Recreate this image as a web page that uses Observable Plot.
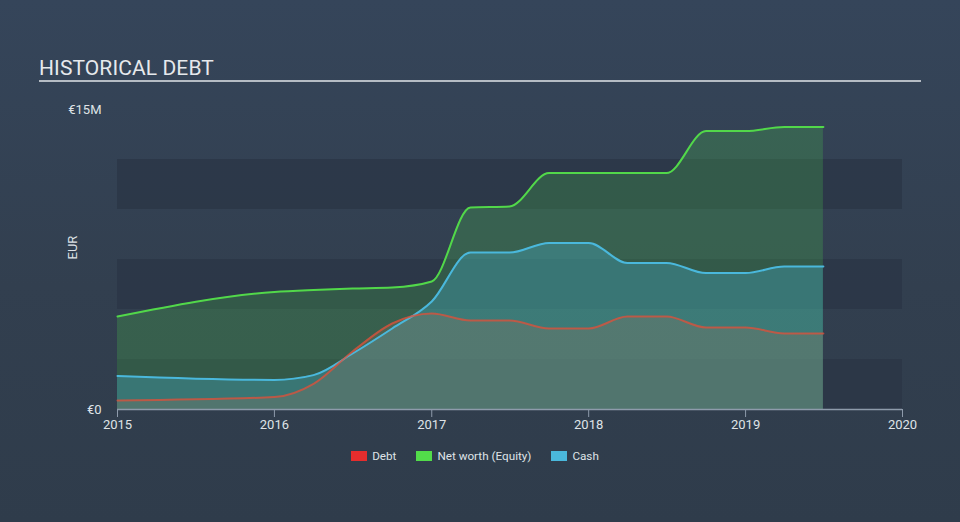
<!DOCTYPE html>
<html>
<head>
<meta charset="utf-8">
<script src="https://cdn.jsdelivr.net/npm/d3@7"></script>
<script src="https://cdn.jsdelivr.net/npm/@observablehq/plot@0.6"></script>
<style>
  html, body { margin: 0; padding: 0; background: #323f4f; }
  #chart { position: relative; width: 960px; height: 522px; overflow: hidden;
    background: linear-gradient(180deg, #35455a 0%, #323f4f 55%, #2f3c4b 100%);
    font-family: Roboto, "Open Sans", sans-serif; }
  #title { position: absolute; left: 39px; top: 57px; font-size: 21px; line-height: 22px; color: #e6e9ec; letter-spacing: 0.1px; }
  #rule { position: absolute; left: 39px; top: 80px; width: 882px; height: 2px; background: #b5bcc4; }
  #plot { position: absolute; left: 0; top: 90px; }
  #legend { position: absolute; left: 0; width: 950px; padding-right: 10px; top: 449px; display: flex; justify-content: center; align-items: center;
    font-size: 11.7px; color: #dfe3e7; }
  .item { display: flex; align-items: center; margin: 0 10px; }
  .sw { width: 16px; height: 10px; margin-right: 5px; }
  #patdefs { position: absolute; left: 0; top: 0; width: 0; height: 0; }
</style>
</head>
<body>
<svg id="patdefs" width="0" height="0" xmlns="http://www.w3.org/2000/svg">
  <defs>
    <pattern id="hatchdebt" patternUnits="userSpaceOnUse" width="4" height="4" patternTransform="rotate(45)">
      <rect x="0" y="0" width="1.8" height="4" fill="#d86a55" fill-opacity="0.5"></rect>
    </pattern>
  </defs>
</svg>
<div id="chart">
  <div id="title">HISTORICAL DEBT</div>
  <div id="rule"></div>
  <div id="plot"></div>
  <div id="legend"></div>
</div>
<script>
// ---- data (EUR millions) ----
const dates  = ["2015-01-01","2016-01-01","2016-04-01","2016-07-01","2016-10-01","2017-01-01","2017-04-01","2017-07-01","2017-10-01","2018-01-01","2018-04-01","2018-07-01","2018-10-01","2019-01-01","2019-04-01","2019-07-01"];
const debt   = [0.45, 0.62, 1.28, 2.9, 4.3, 4.8, 4.45, 4.45, 4.05, 4.05, 4.65, 4.65, 4.1, 4.1, 3.8, 3.8];
const equity = [4.65, 5.88, 5.98, 6.05, 6.1, 6.4, 10.1, 10.15, 11.82, 11.82, 11.82, 11.82, 13.92, 13.92, 14.12, 14.12];
const cash   = [1.68, 1.48, 1.72, 2.8, 4.05, 5.4, 7.85, 7.85, 8.33, 8.33, 7.33, 7.33, 6.82, 6.82, 7.15, 7.15];
const xTickYears = ["2015","2016","2017","2018","2019","2020"];
const yTicks = [0, 15];
const yTickLabels = ["€0", "€15M"];
const bandLo = [0, 5, 10];
const bandHi = [2.5, 7.5, 12.5];
const seriesNames = ["Debt", "Net worth (Equity)", "Cash"];
const seriesColors = ["#e52d2d", "#52dc4a", "#4ab8dc"];

const rows = dates.map((d, i) => ({date: new Date(d), debt: debt[i], equity: equity[i], cash: cash[i]}));
const bands = bandLo.map((lo, i) => ({lo, hi: bandHi[i]}));
const xDomain = [new Date("2015-01-01"), new Date("2020-01-01")];
const xTicks = xTickYears.map(y => new Date(y + "-01-01"));

const svg = Plot.plot({
  width: 960,
  height: 345,
  marginLeft: 117,
  marginRight: 58,
  marginTop: 19,
  marginBottom: 26,
  style: {background: "transparent", color: "#dfe3e7", fontFamily: "Roboto, sans-serif", fontSize: "13px", overflow: "visible"},
  x: {type: "utc", domain: xDomain, ticks: xTicks, tickFormat: d3.utcFormat("%Y"), tickSize: 8, tickPadding: 2, label: null},
  y: {domain: [0, 15], ticks: yTicks, tickFormat: d => yTickLabels[yTicks.indexOf(d)], tickSize: 0, tickPadding: 16, label: null},
  marks: [
    Plot.rect(bands, {x1: () => xDomain[0], x2: () => xDomain[1], y1: "lo", y2: "hi", fill: "#2b3645", fillOpacity: 0.75}),
    Plot.areaY(rows, {x: "date", y: "equity", fill: "#4fd84f", fillOpacity: 0.22, curve: "monotone-x"}),
    Plot.areaY(rows, {x: "date", y: "cash", fill: "#4ab8dc", fillOpacity: 0.3, curve: "monotone-x"}),
    Plot.areaY(rows, {x: "date", y: "debt", fill: "#a8705a", fillOpacity: 0.22, curve: "monotone-x"}),
    Plot.areaY(rows, {x: "date", y: "debt", fill: "red", curve: "monotone-x", ariaLabel: "debt-area"}),
    Plot.line(rows, {x: "date", y: "equity", stroke: "#52d84a", strokeWidth: 2, curve: "monotone-x"}),
    Plot.line(rows, {x: "date", y: "cash", stroke: "#4ab8dc", strokeWidth: 2, curve: "monotone-x"}),
    Plot.line(rows, {x: "date", y: "debt", stroke: "#e0503a", strokeOpacity: 0.75, strokeWidth: 2, curve: "monotone-x"}),
    Plot.ruleY([0], {stroke: "#8e9bab", strokeWidth: 1.5}),
    Plot.text(["EUR"], {frameAnchor: "left", dx: -45, rotate: -90, fill: "#dfe3e7", fontSize: 13})
  ]
});

const areaG = svg.querySelector('g[aria-label="debt-area"]');
if (areaG) {
  areaG.setAttribute("fill", "url(#hatchdebt)");
  areaG.querySelectorAll("path").forEach(p => p.setAttribute("fill", "url(#hatchdebt)"));
}
svg.querySelectorAll('g[aria-label="x-axis tick"], g[aria-label="x-axis"]').forEach(g => g.setAttribute("stroke", "#8e9bab"));
document.getElementById("plot").appendChild(svg);

// legend
const legend = document.getElementById("legend");
seriesNames.forEach((name, i) => {
  const it = document.createElement("div");
  it.className = "item";
  it.innerHTML = `<span class="sw" style="background:${seriesColors[i]}"></span><span>${name}</span>`;
  legend.appendChild(it);
});
</script>
</body>
</html>
